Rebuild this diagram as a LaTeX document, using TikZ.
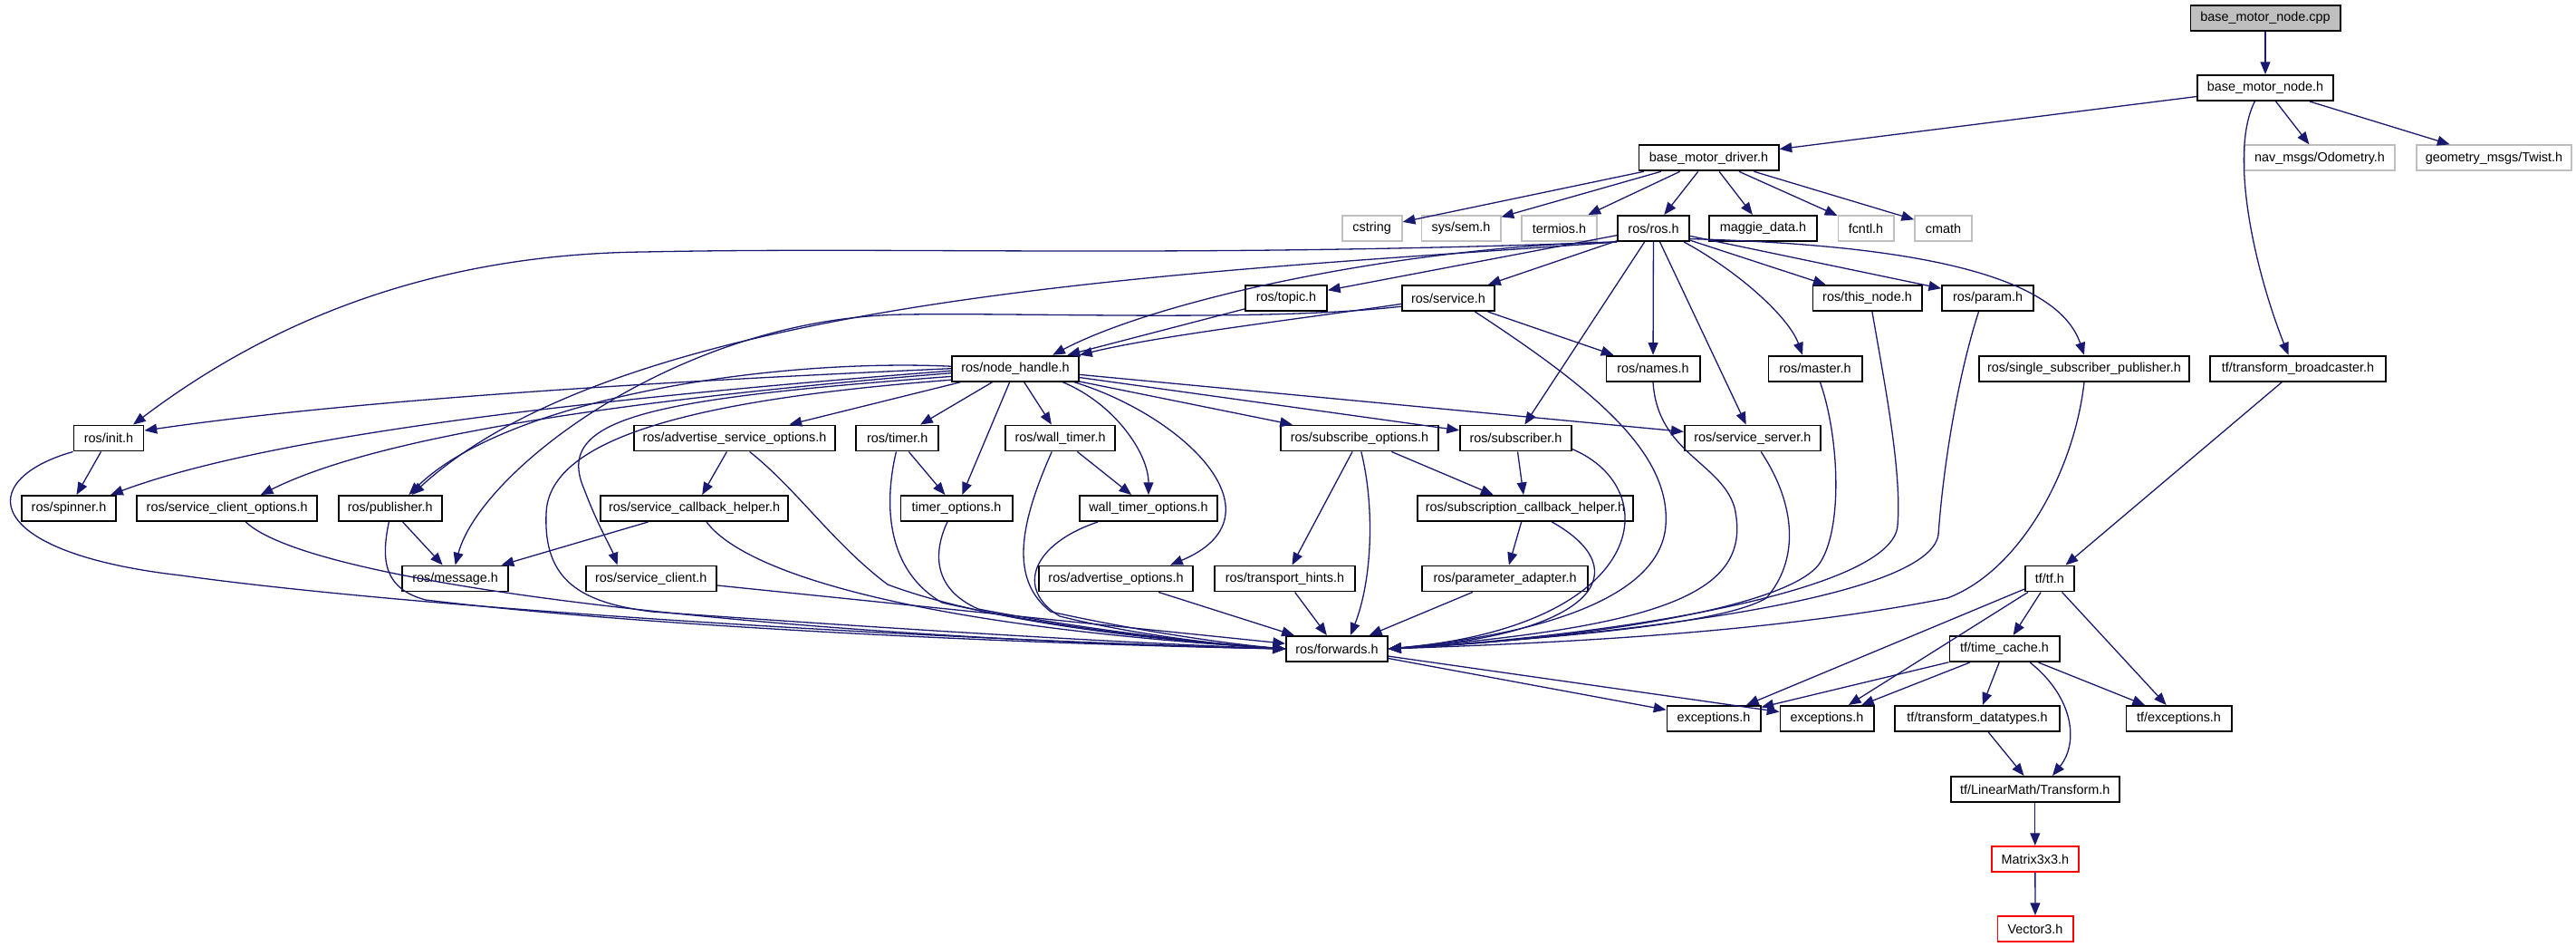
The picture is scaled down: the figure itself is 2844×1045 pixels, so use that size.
\documentclass[tikz,border=0pt]{standalone}
\usepackage{fontspec}
\setmainfont{Liberation Sans}
\usepackage{tikz}
\usetikzlibrary{arrows.meta}

\definecolor{edgeblue}{HTML}{191970}
\definecolor{boxgray}{HTML}{BFBFBF}

\begin{document}
\begin{tikzpicture}[x=0.01cm, y=-0.01cm,
  every node/.style={draw=black, line width=0.55pt, fill=white, minimum height=0.28cm, inner sep=0pt,
    font=\fontsize{4.1pt}{4.8pt}\selectfont},
  root/.style={fill=boxgray},
  ext/.style={draw=boxgray},
  missing/.style={draw=red},
  dep/.style={draw=edgeblue, line width=0.37pt, -{Triangle[length=3.9pt, width=3.1pt]}}]
  \useasboundingbox (0,0) rectangle (2844,1045);
  % rows 0 to 4
  \node [root, minimum width=1.65cm] (cpp) at (2501, 20) {base\_motor\_node.cpp};
  \node [minimum width=1.50cm] (bmnode) at (2501, 97) {base\_motor\_node.h};
  \node [minimum width=1.54cm] (bmdriver) at (1886.5, 174.3) {base\_motor\_driver.h};
  \node [ext, minimum width=1.65cm] (odom) at (2561, 174.3) {nav\_msgs/Odometry.h};
  \node [ext, minimum width=1.71cm] (twist) at (2753.5, 174.3) {geometry\_msgs/Twist.h};
  \node [ext, minimum width=0.66cm] (cstring) at (1514.7, 252) {cstring};
  \node [ext, minimum width=0.87cm] (syssem) at (1613, 252) {sys/sem.h};
  \node [ext, minimum width=0.83cm] (termios) at (1721.5, 252) {termios.h};
  \node [minimum width=0.79cm] (ros) at (1825.5, 252) {ros/ros.h};
  \node [minimum width=1.19cm] (maggie) at (1946.5, 252) {maggie\_data.h};
  \node [ext, minimum width=0.61cm] (fcntl) at (2060, 252) {fcntl.h};
  \node [ext, minimum width=0.63cm] (cmath) at (2145.6, 252) {cmath};
  \node [minimum width=0.90cm] (topic) at (1420, 329) {ros/topic.h};
  \node [minimum width=1.02cm] (service) at (1599, 329) {ros/service.h};
  \node [minimum width=1.20cm] (thisnode) at (2061.5, 329) {ros/this\_node.h};
  \node [minimum width=1.01cm] (param) at (2194.6, 329) {ros/param.h};
  % rows 5 to 8
  \node [minimum width=1.40cm] (nodehandle) at (1121, 406.7) {ros/node\_handle.h};
  \node [minimum width=1.03cm] (names) at (1825, 406.7) {ros/names.h};
  \node [minimum width=1.03cm] (master) at (2004, 406.7) {ros/master.h};
  \node [minimum width=2.32cm] (sspub) at (2301, 406.7) {ros/single\_subscriber\_publisher.h};
  \node [minimum width=1.94cm] (tfbroad) at (2537, 406.7) {tf/transform\_broadcaster.h};
  \node [minimum width=0.77cm] (init) at (120, 483.5) {ros/init.h};
  \node [minimum width=2.22cm] (advsrvopt) at (811, 483.5) {ros/advertise\_service\_options.h};
  \node [minimum width=0.91cm] (timer) at (990.7, 483.5) {ros/timer.h};
  \node [minimum width=1.21cm] (walltimer) at (1170.6, 483.5) {ros/wall\_timer.h};
  \node [minimum width=1.74cm] (subopt) at (1501, 483.5) {ros/subscribe\_options.h};
  \node [minimum width=1.23cm] (subscriber) at (1673.5, 483.5) {ros/subscriber.h};
  \node [minimum width=1.50cm] (srvserver) at (1934.8, 483.5) {ros/service\_server.h};
  \node [minimum width=1.04cm] (spinner) at (76, 561) {ros/spinner.h};
  \node [minimum width=1.99cm] (srvclientopt) at (250.7, 561) {ros/service\_client\_options.h};
  \node [minimum width=1.14cm] (publisher) at (430.7, 561) {ros/publisher.h};
  \node [minimum width=2.07cm] (srvcbhelper) at (766.6, 561) {ros/service\_callback\_helper.h};
  \node [minimum width=1.23cm] (timeropt) at (1056, 561) {timer\_options.h};
  \node [minimum width=1.52cm] (walltimeropt) at (1268, 561) {wall\_timer\_options.h};
  \node [minimum width=2.38cm] (subcbhelper) at (1684, 561) {ros/subscription\_callback\_helper.h};
  \node [minimum width=1.17cm] (message) at (502.6, 638.5) {ros/message.h};
  \node [minimum width=1.44cm] (srvclient) at (718.7, 638.5) {ros/service\_client.h};
  \node [minimum width=1.70cm] (advopt) at (1232, 638.5) {ros/advertise\_options.h};
  \node [minimum width=1.55cm] (hints) at (1418.5, 638.5) {ros/transport\_hints.h};
  \node [minimum width=1.83cm] (paramadapt) at (1661.6, 638.5) {ros/parameter\_adapter.h};
  \node [minimum width=0.54cm] (tf) at (2262.8, 638.5) {tf/tf.h};
  % rows 9 to 13
  \node [minimum width=1.12cm] (forwards) at (1476, 716) {ros/forwards.h};
  \node [minimum width=1.21cm] (timecache) at (2213, 716) {tf/time\_cache.h};
  \node [minimum width=1.03cm] (excA) at (1892, 793) {exceptions.h};
  \node [minimum width=1.03cm] (excB) at (2017, 793) {exceptions.h};
  \node [minimum width=1.82cm] (datatypes) at (2183, 793) {tf/transform\_datatypes.h};
  \node [minimum width=1.16cm] (tfexc) at (2405.5, 793) {tf/exceptions.h};
  \node [minimum width=1.86cm] (transform) at (2246.8, 871) {tf/LinearMath/Transform.h};
  \node [missing, minimum width=0.96cm] (matrix) at (2246.8, 948) {Matrix3x3.h};
  \node [missing, minimum width=0.83cm] (vector) at (2247, 1025) {Vector3.h};

  % top of the graph
  \draw [dep] (cpp) -- (bmnode);
  \draw [dep] (bmnode) -- (bmdriver);
  \draw [dep] (bmnode) -- (odom);
  \draw [dep] (bmnode) -- (twist);
  \draw [dep] (bmnode.232) .. controls (2460,170) and (2490,300) .. (tfbroad.125);
  \draw [dep] (bmdriver) -- (cstring);
  \draw [dep] (bmdriver) -- (syssem);
  \draw [dep] (bmdriver) -- (termios);
  \draw [dep] (bmdriver) -- (ros);
  \draw [dep] (bmdriver) -- (maggie);
  \draw [dep] (bmdriver) -- (fcntl);
  \draw [dep] (bmdriver) -- (cmath);

  % ros/ros.h
  \draw [dep] (ros.south west) .. controls (1300,285) and (1000,272) .. (711,278)
    .. controls (520,280) and (330,330) .. (init.29);
  \draw [dep] (ros.south west) .. controls (1550,272) and (1280,330) .. (nodehandle.20);
  \draw [dep] (ros.south west) .. controls (1350,300) and (700,320) .. (publisher.32);
  \draw [dep] (ros) -- (topic);
  \draw [dep] (ros) -- (service);
  \draw [dep] (ros) -- (subscriber);
  \draw [dep] (ros) -- (names);
  \draw [dep] (ros) -- (srvserver);
  \draw [dep] (ros.-24) .. controls (1920,300) and (1975,350) .. (master.133);
  \draw [dep] (ros) -- (thisnode);
  \draw [dep] (ros) -- (param);
  \draw [dep] (ros.-16) .. controls (2100,270) and (2270,300) .. (sspub.north);
  \draw [dep] (topic) -- (nodehandle);
  \draw [dep] (service.-173) .. controls (1450,350) and (1280,370) .. (nodehandle.north east);
  \draw [dep] (service.-170) .. controls (1400,355) and (1150,345) .. (1000,347)
    .. controls (750,350) and (530,520) .. (message.north);
  \draw [dep] (service) -- (names);

  % ros/node_handle.h
  \draw [dep] (nodehandle.180) .. controls (750,420) and (400,440) .. (init.12);
  \draw [dep] (nodehandle.178) .. controls (850,395) and (560,440) .. (publisher.36);
  \draw [dep] (nodehandle.-178) .. controls (650,440) and (300,480) .. (spinner.18);
  \draw [dep] (nodehandle.-176) .. controls (700,440) and (420,480) .. (srvclientopt.22);
  \draw [dep] (nodehandle.-173) .. controls (720,440) and (610,460) .. (645,540)
    .. controls (660,580) and (675,605) .. (srvclient.158);
  \draw [dep] (nodehandle.-170) .. controls (780,440) and (605,480) .. (603,567)
    .. controls (600,640) and (640,665) .. (720,675) .. controls (1000,695) and (1250,710) .. (forwards.west);
  \draw [dep] (nodehandle) -- (advsrvopt);
  \draw [dep] (nodehandle) -- (timer);
  \draw [dep] (nodehandle) -- (timeropt);
  \draw [dep] (nodehandle) -- (walltimer);
  \draw [dep] (nodehandle.-16) .. controls (1230,445) and (1268,500) .. (walltimeropt.north);
  \draw [dep] (nodehandle.-13) .. controls (1310,460) and (1420,570) .. (advopt.14);
  \draw [dep] (nodehandle) -- (subopt);
  \draw [dep] (nodehandle) -- (subscriber);
  \draw [dep] (nodehandle) -- (srvserver);

  % middle rows
  \draw [dep] (init) -- (spinner);
  \draw [dep] (publisher) -- (message);
  \draw [dep] (srvcbhelper) -- (message);
  \draw [dep] (advsrvopt) -- (srvcbhelper);
  \draw [dep] (timer) -- (timeropt);
  \draw [dep] (walltimer) -- (walltimeropt);
  \draw [dep] (subopt) -- (hints);
  \draw [dep] (subopt) -- (subcbhelper);
  \draw [dep] (subscriber) -- (subcbhelper);
  \draw [dep] (subcbhelper) -- (paramadapt);

  % into ros/forwards.h
  \draw [dep] (init.south west) .. controls (-30,530) and (-20,610) .. (200,635)
    .. controls (450,670) and (1000,705) .. (forwards.west);
  \draw [dep] (srvclientopt.-36) .. controls (350,650) and (900,705) .. (forwards.west);
  \draw [dep] (publisher.-95) .. controls (420,620) and (425,650) .. (470,662)
    .. controls (700,690) and (1100,710) .. (forwards.west);
  \draw [dep] (srvcbhelper.-48) .. controls (820,630) and (1000,690) .. (forwards.west);
  \draw [dep] (srvclient) -- (forwards);
  \draw [dep] (advsrvopt.-42) .. controls (880,540) and (920,600) .. (980,645)
    .. controls (1100,690) and (1300,708) .. (forwards.west);
  \draw [dep] (timer.-95) .. controls (975,560) and (980,630) .. (1040,665)
    .. controls (1150,690) and (1300,708) .. (forwards.west);
  \draw [dep] (timeropt.-124) .. controls (1030,610) and (1030,650) .. (1080,672)
    .. controls (1200,695) and (1330,710) .. (forwards.west);
  \draw [dep] (walltimer.-122) .. controls (1125,580) and (1115,640) .. (1160,675)
    .. controls (1250,695) and (1350,710) .. (forwards.west);
  \draw [dep] (walltimeropt.-165) .. controls (1140,600) and (1120,650) .. (1170,680)
    .. controls (1250,700) and (1350,712) .. (forwards.west);
  \draw [dep] (advopt) -- (forwards);
  \draw [dep] (hints) -- (forwards);
  \draw [dep] (subopt.-83) .. controls (1518,560) and (1515,640) .. (forwards.45);
  \draw [dep] (paramadapt) -- (forwards);
  \draw [dep] (subcbhelper.-27) .. controls (1810,630) and (1760,700) .. (forwards.east);
  \draw [dep] (subscriber.-11) .. controls (1840,540) and (1820,690) .. (forwards.east);
  \draw [dep] (service.-27) .. controls (1760,430) and (1845,500) .. (1839,580)
    .. controls (1833,660) and (1700,700) .. (forwards.east);
  \draw [dep] (names.south) .. controls (1830,500) and (1900,510) .. (1915,560)
    .. controls (1935,650) and (1850,690) .. (forwards.east);
  \draw [dep] (srvserver.-58) .. controls (1985,560) and (1985,620) .. (1950,660)
    .. controls (1900,690) and (1700,705) .. (forwards.east);
  \draw [dep] (master.-70) .. controls (2030,480) and (2035,580) .. (2010,620)
    .. controls (1980,670) and (1750,705) .. (forwards.east);
  \draw [dep] (thisnode.-70) .. controls (2080,420) and (2100,520) .. (2095,580)
    .. controls (2090,650) and (1800,700) .. (forwards.east);
  \draw [dep] (param.-124) .. controls (2160,420) and (2145,520) .. (2140,590)
    .. controls (2130,660) and (1800,700) .. (forwards.east);
  \draw [dep] (sspub.south) .. controls (2290,520) and (2230,630) .. (2150,660)
    .. controls (1950,700) and (1700,710) .. (forwards.east);
  \draw [dep] (forwards) -- (excA);
  \draw [dep] (forwards) -- (excB);

  % tf part
  \draw [dep] (tfbroad) -- (tf);
  \draw [dep] (tf) -- (timecache);
  \draw [dep] (tf) -- (tfexc);
  \draw [dep] (tf) -- (excA);
  \draw [dep] (tf) -- (excB);
  \draw [dep] (timecache) -- (excA);
  \draw [dep] (timecache) -- (excB);
  \draw [dep] (timecache) -- (datatypes);
  \draw [dep] (timecache) -- (tfexc);
  \draw [dep] (timecache.-28) .. controls (2290,770) and (2295,820) .. (transform.38);
  \draw [dep] (datatypes) -- (transform);
  \draw [dep] (transform) -- (matrix);
  \draw [dep] (matrix) -- (vector);
\end{tikzpicture}
\end{document}
